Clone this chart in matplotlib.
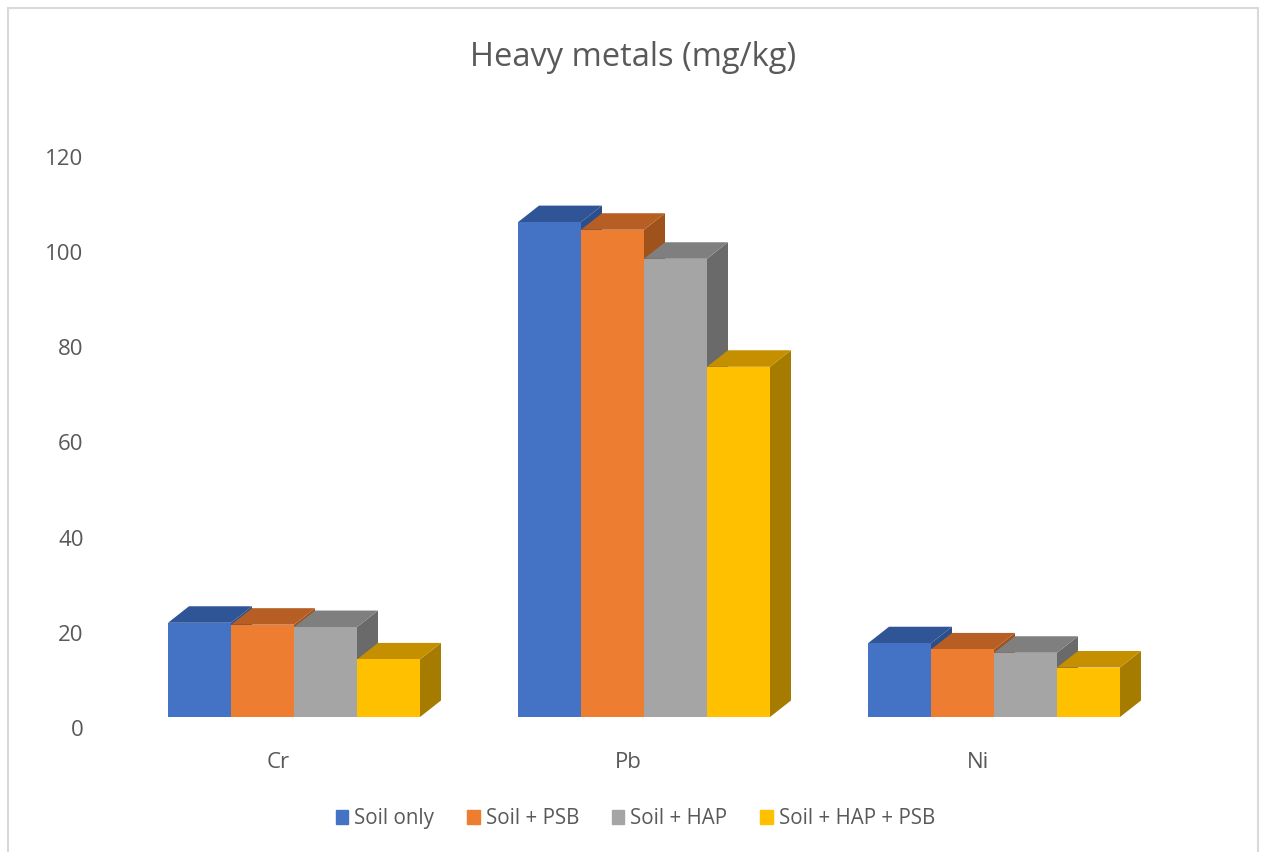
import matplotlib.pyplot as plt
from matplotlib.patches import Polygon, Rectangle
from matplotlib.transforms import offset_copy

plt.rcParams['font.family'] = ['Open Sans', 'DejaVu Sans']

metals = ['Cr', 'Pb', 'Ni']
series_names = ['Soil only', 'Soil + PSB', 'Soil + HAP', 'Soil + HAP + PSB']
soil_only = [19.8, 104.0, 15.5]
soil_psb = [19.4, 102.4, 14.2]
soil_hap = [18.9, 96.3, 13.5]
soil_hap_psb = [12.1, 73.6, 10.4]

# face shades: front, top, right side
front_c = ['#4472C4', '#ED7D31', '#A5A5A5', '#FFC000']
top_c = ['#2F5597', '#B65E23', '#7F7F7F', '#C49000']
side_c = ['#2B4E8C', '#A0521C', '#6A6A6A', '#A67C00']
text_c = '#595959'

W, H = 1261, 852
fig = plt.figure(figsize=(W / 100, H / 100), dpi=100)
ax = fig.add_axes([103 / W, 124 / H, 1050 / W, 571 / H])
ax.set_xlim(-0.5, 2.5)
ax.set_ylim(0, 120)

bar_w = 0.18
dx, dy = 0.06, 3.47  # depth of each column
# columns stand a little behind the axis plane
shift = offset_copy(ax.transData, fig=fig, x=16, y=11, units='dots')

for s, vals in enumerate([soil_only, soil_psb, soil_hap, soil_hap_psb]):
    for i, h in enumerate(vals):
        x0 = i + (s - 1.5) * bar_w - bar_w / 2
        x1 = x0 + bar_w
        side = Polygon([(x1, 0), (x1 + dx, dy), (x1 + dx, h + dy), (x1, h)],
                       closed=True, fc=side_c[s], ec='none', transform=shift, clip_on=False)
        top = Polygon([(x0, h), (x1, h), (x1 + dx, h + dy), (x0 + dx, h + dy)],
                      closed=True, fc=top_c[s], ec='none', transform=shift, clip_on=False)
        face = Rectangle((x0, 0), bar_w, h, fc=front_c[s], ec='none',
                         transform=shift, clip_on=False)
        ax.add_patch(side)
        ax.add_patch(top)
        ax.add_patch(face)

for sp in ax.spines.values():
    sp.set_visible(False)
ax.set_yticks(range(0, 121, 20))
ax.set_xticks(range(len(metals)))
ax.set_xticklabels(metals)
ax.tick_params(axis='y', length=0, colors=text_c, labelsize=16, pad=14)
ax.tick_params(axis='x', length=0, colors=text_c, labelsize=16, pad=17)

fig.text(0.502, 0.933, 'Heavy metals (mg/kg)', ha='center', va='center',
         fontsize=23.5, color=text_c)

handles = [Rectangle((0, 0), 1, 1, color=c) for c in front_c]
fig.legend(handles, series_names, loc='center', bbox_to_anchor=(0.504, 0.039),
           ncol=4, frameon=False, fontsize=14.8, handlelength=0.6, handleheight=0.6,
           handletextpad=0.3, columnspacing=1.6, labelcolor=text_c)

fig.add_artist(Rectangle((8 / W, -0.1), 1250 / W, (H - 8) / H + 0.1,
                         transform=fig.transFigure, fill=False, ec='#D9D9D9', lw=1.5))

fig.savefig('out.png', dpi=100)
